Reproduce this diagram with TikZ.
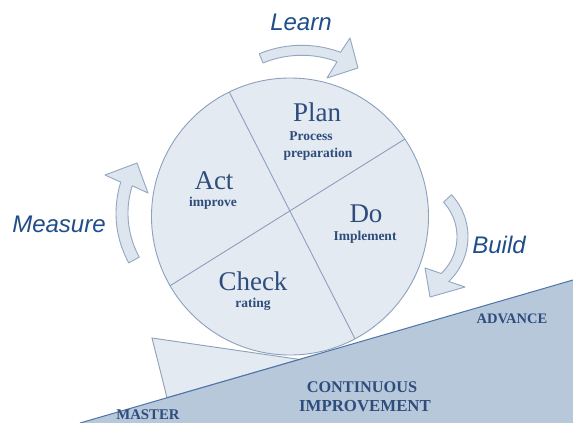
\documentclass[tikz,border=0pt]{standalone}
\usepackage{fontspec}
\setmainfont{Liberation Serif}
\newfontfamily\arial{Liberation Sans}
\usetikzlibrary{calc}
\definecolor{circfill}{HTML}{E4EAF2}
\definecolor{circline}{HTML}{8DA0BC}
\definecolor{groundfill}{HTML}{B7C8DB}
\definecolor{groundline}{HTML}{4D74A8}
\definecolor{arrfill}{HTML}{DDE5EF}
\definecolor{arrline}{HTML}{93A6C2}
\definecolor{italblue}{HTML}{1F4E8A}
\definecolor{serifblue}{HTML}{2E4C7C}
\tikzset{
  cyclearrow/.style={fill=arrfill, draw=arrline, line width=0.9pt, line join=round},
  ital/.style={font=\arial\itshape\fontsize{24}{24}\selectfont, text=italblue, anchor=base, inner sep=0pt},
  big/.style={font=\fontsize{27}{27}\selectfont, text=serifblue, anchor=base, inner sep=0pt},
  small/.style={font=\bfseries\fontsize{13.5}{13.5}\selectfont, text=serifblue, anchor=base, inner sep=0pt},
  caps/.style={font=\bfseries\fontsize{15}{15}\selectfont, text=serifblue, anchor=base, inner sep=0pt},
}
\begin{document}
\begin{tikzpicture}[x=1pt,y=-1pt]
\clip (0,0) rectangle (573,423);
\fill[white] (0,0) rectangle (573,423);
% ground
\coordinate (g1) at (80,423);
\coordinate (g2) at (573,280);
\fill[groundfill] (g1) -- (g2) -- (573,423) -- cycle;
% circle
\coordinate (c) at (290,216.5);
\filldraw[fill=circfill, draw=circline, line width=0.9pt] (c) circle[radius=138.5];
\draw[circline, line width=0.9pt] ($(c)+(-116:138.5)$) -- ($(c)+(62:138.5)$);
\draw[circline, line width=0.9pt] ($(c)+(-34:138.5)$) -- ($(c)+(-210:138.5)$);
% wedge
\filldraw[fill=circfill, draw=circline, line width=0.9pt] (152,338) -- (300,359.5) -- (167,397.7) -- cycle;
\draw[groundline, line width=1pt] (g1) -- (g2);
% arrows
\draw[cyclearrow]
  plot[domain=112.5:69.5, samples=30, variable=\t] ({301.7+111*cos(\t)},{156.3-111*sin(\t)})
  -- (350,38) -- (358,68) -- (327,78)
  -- plot[domain=69.5:112.5, samples=30, variable=\t] ({301.7+101*cos(\t)},{156.3-101*sin(\t)})
  -- cycle;
\draw[cyclearrow]
  plot[domain=208.8:162.5, samples=30, variable=\t] ({219.2+103.2*cos(\t)},{213.2-103.2*sin(\t)})
  -- (105,175) -- (137,163) -- (148,193)
  -- plot[domain=162.5:208.8, samples=30, variable=\t] ({219.2+91.2*cos(\t)},{213.2-91.2*sin(\t)})
  -- cycle;
\draw[cyclearrow]
  plot[domain=42.9:-46.6, samples=30, variable=\t] ({406.4+61.6*cos(\t)},{236.7-61.6*sin(\t)})
  -- (465,287) -- (430,297) -- (425,268)
  -- plot[domain=-46.6:42.9, samples=30, variable=\t] ({406.4+50.6*cos(\t)},{236.7-50.6*sin(\t)})
  -- cycle;
% labels
\node[ital] (learn) at (301,30) {Learn};
\node[ital] (measure) at (59,232) {Measure};
\node[ital] (build) at (499,253) {Build};
\node[big] (plan) at (317,121) {Plan};
\node[small] (process) at (311,140.5) {Process};
\node[small] (prep) at (318,157) {preparation};
\node[big] (act) at (214,189) {Act};
\node[small] (improve) at (213,206) {improve};
\node[big] (check) at (253,290) {Check};
\node[small] (rating) at (253,307) {rating};
\node[big] (do) at (366,222) {Do};
\node[small] (impl) at (365,240) {Implement};
\node[caps, font=\bfseries\fontsize{14.5}{14.5}\selectfont] (adv) at (512,323) {ADVANCE};
\node[caps, font=\bfseries\fontsize{16.3}{16.3}\selectfont] (cont) at (362,392) {CONTINUOUS};
\node[caps, font=\bfseries\fontsize{16.8}{16.8}\selectfont] (imp) at (365,411) {IMPROVEMENT};
\node[caps, font=\bfseries\fontsize{14.8}{14.8}\selectfont] (master) at (148,419) {MASTER};
\end{tikzpicture}
\end{document}
